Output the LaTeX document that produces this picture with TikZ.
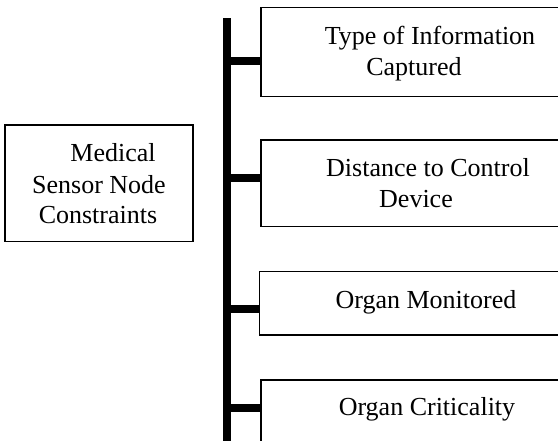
\documentclass[tikz,border=0pt]{standalone}
\usepackage{fontspec}
\setmainfont{Liberation Serif}
\begin{document}
\begin{tikzpicture}[x=1pt,y=-1pt,
  box/.style={draw, line width=1.6pt, rectangle, inner sep=0pt, outer sep=0pt, anchor=north west},
  lbl/.style={anchor=base, inner sep=0pt, font=\fontsize{26}{30}\selectfont},
  trunk/.style={line width=8pt},
  branch/.style={line width=8pt}]
\useasboundingbox (0,0) rectangle (558,441);
\clip (0,0) rectangle (558,441);

% root box
\node[box, minimum width=187.7pt, minimum height=116.7pt] (root) at (5,125) {};
\node[lbl] (m1) at (113,161.7) {Medical};
\node[lbl] (m2) at (99,193.3) {Sensor Node};
\node[lbl] (m3) at (98,224) {Constraints};

% constraint boxes (run past the right edge)
\node[box, minimum width=340pt, minimum height=89pt]   (b1) at (261,7.5) {};
\node[box, minimum width=340pt, minimum height=86.7pt] (b2) at (261,140) {};
\node[box, minimum width=340pt, minimum height=63.3pt] (b3) at (259.5,271.7) {};
\node[box, minimum width=340pt, minimum height=90pt]   (b4) at (261,380) {};

\node[lbl] (t1a) at (430,45)    {Type of Information};
\node[lbl] (t1b) at (414,76)    {Captured};
\node[lbl] (t2a) at (428,176.7) {Distance to Control};
\node[lbl] (t2b) at (416,207.3) {Device};
\node[lbl] (t3)  at (426,308.3) {Organ Monitored};
\node[lbl] (t4)  at (427,415.7) {Organ Criticality};

% trunk and branches
\coordinate (top) at (227.3,18.3);
\coordinate (bot) at (227.3,450);
\draw[trunk] (top) -- (bot);
\coordinate (k1) at (227.3,61.5);
\coordinate (k2) at (227.3,178);
\coordinate (k3) at (227.3,309);
\coordinate (k4) at (227.3,408);
\draw[branch] (k1) -- (k1 -| b1.west);
\draw[branch] (k2) -- (k2 -| b2.west);
\draw[branch] (k3) -- (k3 -| b3.west);
\draw[branch] (k4) -- (k4 -| b4.west);
\end{tikzpicture}
\end{document}
